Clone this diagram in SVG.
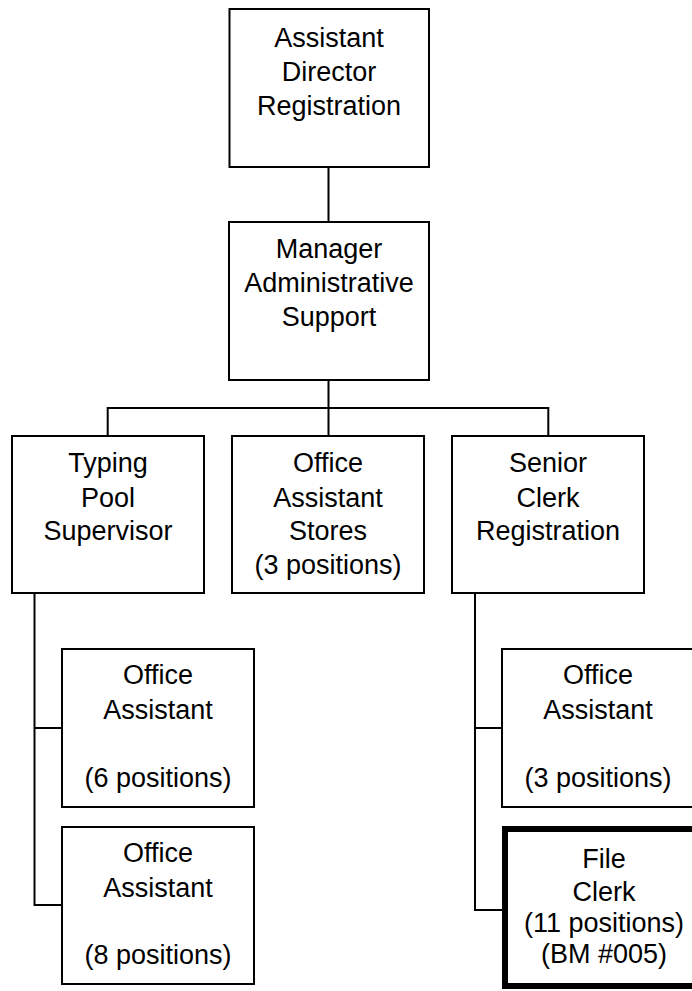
<svg xmlns="http://www.w3.org/2000/svg" width="692" height="991" viewBox="0 0 692 991">
<style>
.box{fill:#fff;stroke:#000;stroke-width:2}
.thick{fill:#fff;stroke:#000;stroke-width:6}
.ln{fill:none;stroke:#000;stroke-width:2}
text{font-family:"Liberation Sans",Arial,sans-serif;font-size:27px;fill:#000;text-anchor:middle}
</style>
<rect width="692" height="991" fill="#fff"/>
<g id="connectors">
<path class="ln" d="M328.5 167V222M328.5 380V436M107.7 436V408H548.3V436"/>
<path class="ln" d="M34.5 593V905H62M34.5 728H62"/>
<path class="ln" d="M475 593V910H502M475 728H502"/>
</g>
<g id="n1"><rect class="box" x="229.5" y="9" width="199.5" height="158"/>
<text x="329" y="47">Assistant</text><text x="329" y="81">Director</text><text x="329" y="115">Registration</text></g>
<g id="n2"><rect class="box" x="229" y="222" width="200" height="158"/>
<text x="329" y="258">Manager</text><text x="329" y="292">Administrative</text><text x="329" y="326">Support</text></g>
<g id="n3"><rect class="box" x="12" y="436" width="192" height="157"/>
<text x="108" y="472">Typing</text><text x="108" y="506.5">Pool</text><text x="108" y="540">Supervisor</text></g>
<g id="n4"><rect class="box" x="232" y="436" width="192" height="157"/>
<text x="328" y="472">Office</text><text x="328" y="506.5">Assistant</text><text x="328" y="540">Stores</text><text x="328" y="574">(3 positions)</text></g>
<g id="n5"><rect class="box" x="452" y="436" width="192" height="157"/>
<text x="548" y="472">Senior</text><text x="548" y="506.5">Clerk</text><text x="548" y="540">Registration</text></g>
<g id="n6"><rect class="box" x="62" y="649" width="192" height="158"/>
<text x="158" y="684">Office</text><text x="158" y="719">Assistant</text><text x="158" y="787">(6 positions)</text></g>
<g id="n7"><rect class="box" x="62" y="827" width="192" height="157"/>
<text x="158" y="862">Office</text><text x="158" y="897">Assistant</text><text x="158" y="964">(8 positions)</text></g>
<g id="n8"><rect class="box" x="502" y="649" width="192" height="158"/>
<text x="598" y="684">Office</text><text x="598" y="719">Assistant</text><text x="598" y="787">(3 positions)</text></g>
<g id="n9"><rect class="thick" x="505" y="829" width="198" height="157"/>
<text x="604" y="868">File</text><text x="604" y="901">Clerk</text><text x="604" y="932">(11 positions)</text><text x="604" y="963">(BM #005)</text></g>
</svg>
